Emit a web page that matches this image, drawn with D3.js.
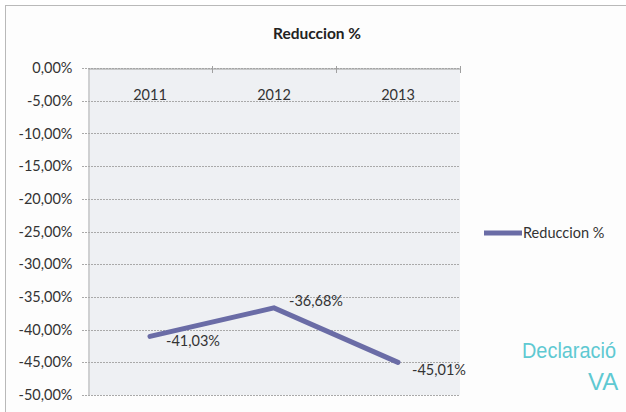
<!DOCTYPE html>
<html>
<head>
<meta charset="utf-8">
<script src="https://cdn.jsdelivr.net/npm/d3@7"></script>
<style>
  body { margin: 0; background: #fff; }
  svg { display: block; }
</style>
</head>
<body>
<div id="chart"></div>
<script>
const years = ['2011', '2012', '2013'];
const reduccion = [-41.03, -36.68, -45.01];
const yTicks = [0, -5, -10, -15, -20, -25, -30, -35, -40, -45, -50];

const W = 626, H = 412;
const fmt = v => (v < 0 ? '-' : '') + d3.format('.2f')(Math.abs(v)).replace('.', ',') + '%';

const svg = d3.select('#chart').append('svg')
  .attr('width', W).attr('height', H)
  .style('font-family', 'Lato, Carlito, sans-serif');

// marco exterior del grafico
svg.append('rect')
  .attr('x', 5.5).attr('y', 5.5)
  .attr('width', W - 4).attr('height', H - 4)
  .attr('fill', '#fdfdfd').attr('stroke', '#b9b9b9');

const x = d3.scaleBand().domain(years).range([88, 460]);
const y = d3.scaleLinear().domain([-50, 0]).range([395, 68]);

// area del grafico
svg.append('rect')
  .attr('x', 88).attr('y', 68)
  .attr('width', 372).attr('height', 327)
  .attr('fill', '#eef0f3');

// lineas de cuadricula
svg.append('g')
  .selectAll('line')
  .data(yTicks)
  .join('line')
  .attr('x1', 82).attr('x2', 460)
  .attr('y1', d => Math.round(y(d)) + 0.5).attr('y2', d => Math.round(y(d)) + 0.5)
  .attr('stroke', '#a9a9a9')
  .attr('stroke-dasharray', '2 1');

// eje Y
const yAxis = svg.append('g')
  .attr('transform', 'translate(88.5,0)')
  .call(d3.axisLeft(y).tickValues(yTicks).tickFormat(fmt).tickSize(0).tickPadding(16));
yAxis.select('.domain').attr('stroke', '#b0b0b0');
yAxis.selectAll('text').attr('font-size', 14.5).attr('fill', '#333')
  .attr('font-family', 'Lato, sans-serif');

// eje X (arriba, en 0)
const xAxis = svg.append('g')
  .attr('transform', `translate(0,${Math.round(y(0)) + 0.5})`)
  .call(d3.axisTop(x).tickSize(0).tickFormat(''));
xAxis.select('.domain').attr('stroke', '#a0a0a0');
svg.append('g')
  .selectAll('line')
  .data(years.slice(1).concat(['end']))
  .join('line')
  .attr('x1', (d, i) => Math.round(x.range()[0] + x.step() * (i + 1)) + 0.5)
  .attr('x2', (d, i) => Math.round(x.range()[0] + x.step() * (i + 1)) + 0.5)
  .attr('y1', y(0) - 2).attr('y2', y(0) + 5)
  .attr('stroke', '#a0a0a0');

svg.append('g')
  .selectAll('text')
  .data(years)
  .join('text')
  .attr('x', d => x(d) + x.bandwidth() / 2)
  .attr('y', y(0) + 32)
  .attr('text-anchor', 'middle')
  .attr('font-size', 14.5)
  .attr('fill', '#333')
  .text(d => d);

// titulo
svg.append('text')
  .attr('x', 317).attr('y', 39)
  .attr('text-anchor', 'middle')
  .attr('font-size', 15.5).attr('font-weight', 'bold')
  .attr('fill', '#222')
  .text('Reduccion %');

// serie
const line = d3.line()
  .x((d, i) => x(years[i]) + x.bandwidth() / 2)
  .y(d => y(d));
svg.append('path')
  .datum(reduccion)
  .attr('d', line)
  .attr('fill', 'none')
  .attr('stroke', '#6a6ca6')
  .attr('stroke-width', 5)
  .attr('stroke-linejoin', 'miter')
  .attr('stroke-linecap', 'round');

// etiquetas de datos
const lblDx = [16, 15, 14];
const lblDy = [10, -2, 13];
svg.append('g')
  .selectAll('text')
  .data(reduccion)
  .join('text')
  .attr('x', (d, i) => x(years[i]) + x.bandwidth() / 2 + lblDx[i])
  .attr('y', (d, i) => y(d) + lblDy[i])
  .attr('font-size', 14.5)
  .attr('fill', '#333')
  .text(fmt);

// leyenda
svg.append('line')
  .attr('x1', 484).attr('x2', 522)
  .attr('y1', 233).attr('y2', 233)
  .attr('stroke', '#6a6ca6').attr('stroke-width', 5);
svg.append('text')
  .attr('x', 523).attr('y', 238)
  .attr('font-size', 14.5).attr('fill', '#333')
  .text('Reduccion %');

// marca de agua
svg.append('text')
  .attr('x', 522).attr('y', 358)
  .attr('font-size', 22).attr('fill', '#5fc9d2')
  .attr('font-family', 'Liberation Sans Narrow, Liberation Sans, sans-serif')
  .attr('textLength', 94).attr('lengthAdjust', 'spacingAndGlyphs')
  .text('Declaració');
svg.append('text')
  .attr('x', 588).attr('y', 390)
  .attr('font-size', 24).attr('fill', '#5fc9d2')
  .attr('font-family', 'Liberation Sans, sans-serif')
  .text('VA');
</script>
</body>
</html>
